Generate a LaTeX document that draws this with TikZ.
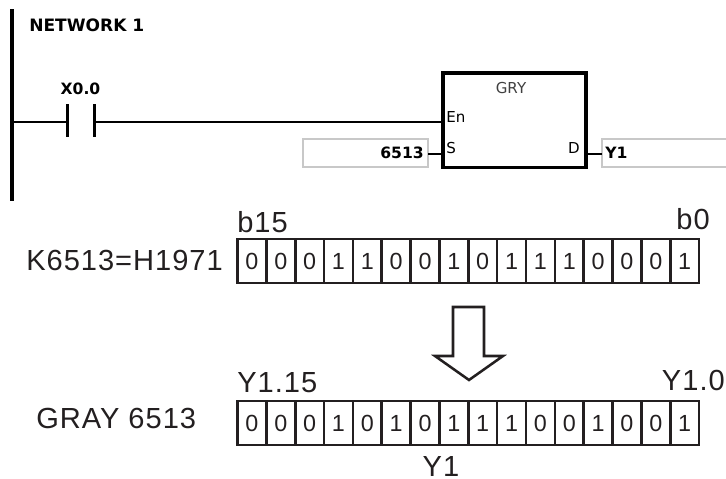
\documentclass[tikz,border=0pt]{standalone}
\usepackage{fontspec}
\setmainfont{Liberation Sans}
\newfontfamily\lad{DejaVu Sans}
\newfontfamily\arl[LetterSpace=3.4]{Liberation Sans}
\definecolor{ink}{HTML}{231F20}
\definecolor{boxgray}{HTML}{C8C8C8}
\tikzset{
  x=0.75pt,y=-0.75pt,
  wire/.style={line width=1.05pt,black},
  rail/.style={line width=2.4pt,black},
  fieldbox/.style={draw=boxgray,line width=1.1pt,fill=white,minimum height=21pt,inner sep=0pt,outer sep=0pt},
  cellbox/.style={draw=ink,line width=2pt,minimum width=21.65pt,minimum height=32.8pt,inner sep=0pt,outer sep=0pt,text=ink,font=\fontsize{17.5pt}{18pt}\selectfont},
  big/.style={inner sep=0pt,text=ink,font=\arl\fontsize{21.8pt}{22pt}\selectfont},
  ladtxt/.style={inner sep=0pt,font=\lad\fontsize{11.3pt}{12pt}\selectfont},
  ladbold/.style={inner sep=0pt,font=\lad\bfseries\fontsize{11.7pt}{12pt}\selectfont},
}
\begin{document}
\begin{tikzpicture}
\useasboundingbox (0,0) rectangle (726,479);
% ladder
\coordinate (railtop) at (12,9);
\coordinate (railbot) at (12,201);
\coordinate (railrung) at (12,122);
\draw[rail] (railtop) -- (railbot);
\node[ladbold,anchor=west,font=\lad\bfseries\fontsize{12.8pt}{13pt}\selectfont] (net) at (29,25) {NETWORK 1};
\node[ladbold,anchor=center] (xlabel) at (80.5,89) {X0.0};
\coordinate (cLt) at (67.5,104); \coordinate (cLb) at (67.5,137); \coordinate (cLm) at (67.5,122);
\coordinate (cRt) at (94.5,104); \coordinate (cRb) at (94.5,137); \coordinate (cRm) at (94.5,122);
\draw[line width=2.1pt] (cLt) -- (cLb);
\draw[line width=2.1pt] (cRt) -- (cRb);
\node[draw,line width=2.6pt,minimum width=107.2pt,minimum height=71pt,inner sep=0pt,outer sep=0pt,anchor=north west] (gry) at (443,73) {};
\draw[wire] (railrung) -- (cLm);
\draw[wire] (cRm) -- (gry.west |- cRm);
\node[ladtxt,text=black!75] (gname) at (511,88) {GRY};
\node[ladtxt,anchor=west] (en) at (446,117) {En};
\node[ladtxt,anchor=west] (sp) at (446,148) {S};
\node[ladtxt,anchor=east] (dp) at (580,148) {D};
\node[fieldbox,anchor=north west,minimum width=93.75pt] (sbox) at (303,139) {};
\node[fieldbox,anchor=north west,minimum width=93.75pt] (dbox) at (602,139) {};
\node[ladbold,anchor=east] (sval) at (424,153) {6513};
\node[ladbold,anchor=west] (dval) at (605,153) {Y1};
\coordinate (sin) at (443,154); \coordinate (dout) at (586,154);
\draw[wire] (sbox.east |- sin) -- (sin);
\draw[wire] (dout) -- (dbox.west |- dout);
% registers
\foreach \b [count=\i from 0] in {0,0,0,1,1,0,0,1,0,1,1,1,0,0,0,1}
  \node[cellbox] (t\i) at ({237.5+28.85*(\i+0.5)},261) {\b};
\foreach \b [count=\i from 0] in {0,0,0,1,0,1,0,1,1,1,0,0,1,0,0,1}
  \node[cellbox] (u\i) at ({237.5+28.85*(\i+0.5)},423) {\b};
\node[big,anchor=west] (k) at (26,260) {K6513=H1971};
\node[big,anchor=west] (g) at (36,418) {GRAY 6513};
\node[big,anchor=base west] (b15) at (237,232.5) {b15};
\node[big,anchor=base east] (b0) at (710,229.5) {b0};
\node[big,anchor=base west] (y15) at (237,392) {Y1.15};
\node[big,anchor=base east] (y0) at (725,390) {Y1.0};
\node[big,anchor=base] (y1) at (441,476) {Y1};
% arrow
\draw[ink,line width=1.9pt,line join=miter]
  (453,307) -- (484,307) -- (484,356) -- (503,356) -- (469,380) -- (435,356) -- (453,356) -- cycle;
\end{tikzpicture}
\end{document}
